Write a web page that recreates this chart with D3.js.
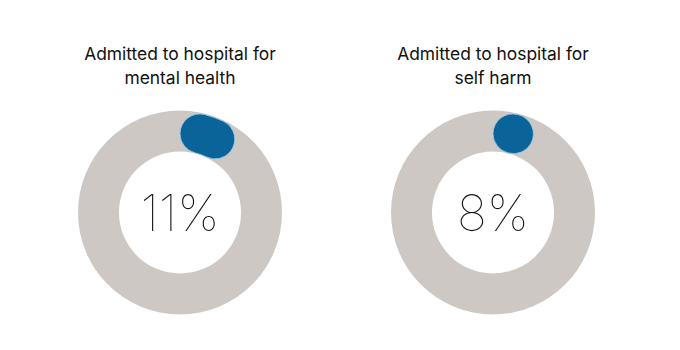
<!DOCTYPE html>
<html><head><meta charset="utf-8">
<script src="https://cdn.jsdelivr.net/npm/d3@7"></script>
<style>body{margin:0;background:#fff}svg{display:block}</style>
</head><body>
<svg id="chart" width="680" height="350"></svg>
<script>
const titles = [["Admitted to hospital for","mental health"],["Admitted to hospital for","self harm"]];
const values = [11, 8];
const labels = ["11%", "8%"];

const svg = d3.select("#chart");
const x = d3.scalePoint().domain(d3.range(values.length)).range([180, 493]);
const angle = d3.scaleLinear().domain([0,100]).range([0, 2*Math.PI]);
const cy = 212.5, rOuter = 102, rInner = 61;

const ring = d3.arc().innerRadius(rInner).outerRadius(rOuter).startAngle(0).endAngle(2*Math.PI);
const valArc = d3.arc().innerRadius(rInner+0.5).outerRadius(rOuter-1).cornerRadius(20).startAngle(0);

values.forEach((v,i)=>{
  const g = svg.append("g").attr("transform",`translate(${x(i)},0)`);
  const t = g.append("text").attr("text-anchor","middle")
    .style("font-family","Inter, 'Noto Sans', sans-serif").style("font-size","17.4px").attr("fill","#111");
  titles[i].forEach((s,j)=>t.append("tspan").attr("x",0).attr("y",60+j*24).text(s));
  const d = g.append("g").attr("transform",`translate(0,${cy})`);
  d.append("path").attr("d",ring()).attr("fill","#cdc8c4");
  d.append("path").attr("d",valArc({endAngle:angle(v)})).attr("fill","#0a6499")
    .attr("stroke","#9fd0ea").attr("stroke-width",1).attr("stroke-opacity",0.8);
  d.append("text").attr("text-anchor","middle").attr("y",18)
    .style("font-family","Inter, 'Noto Sans', sans-serif").style("font-size","50px").style("font-weight",100)
    .attr("fill","#111").text(labels[i]);
});
</script>
</body></html>
